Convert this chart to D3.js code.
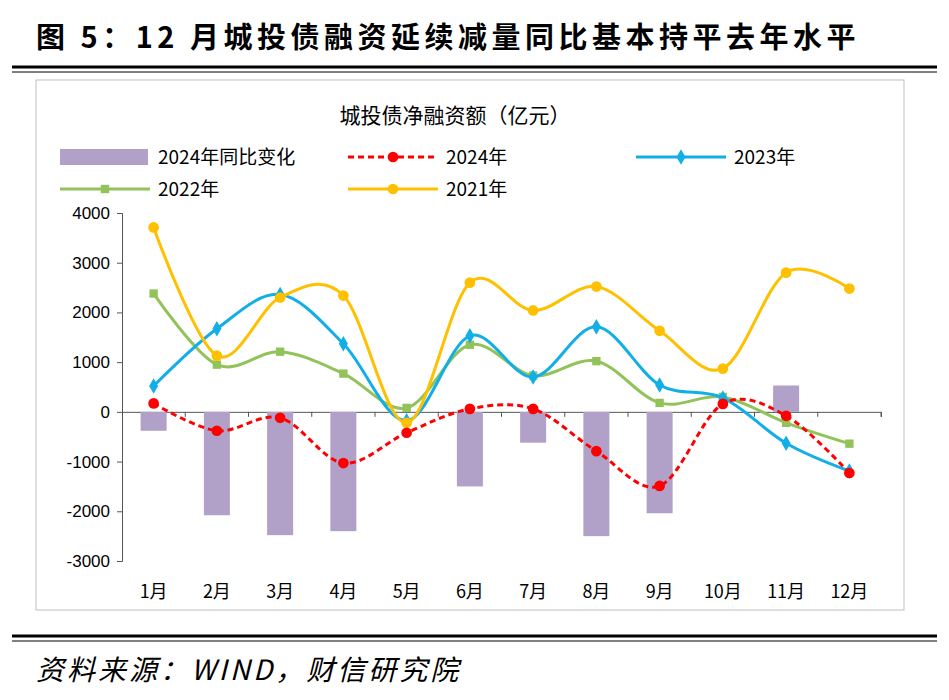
<!DOCTYPE html>
<html><head><meta charset="utf-8">
<script src="https://cdn.jsdelivr.net/npm/d3@7"></script>
<style>body{margin:0;background:#fff}</style>
</head><body><div id="Visualization"></div>
<script>
// Data
const months = ["1月","2月","3月","4月","5月","6月","7月","8月","9月","10月","11月","12月"];
const yoy2024 = [-380,-2080,-2480,-2400,0,-1500,-620,-2500,-2040,0,530,0];
const s2024 = [170,-380,-120,-1030,-420,60,60,-790,-1490,160,-80,-1230];
const s2023 = [520,1670,2360,1370,-180,1530,700,1710,540,280,-630,-1190];
const s2022 = [2380,950,1210,770,80,1350,730,1020,180,300,-220,-640];
const s2021 = [3710,1130,2300,2340,-220,2600,2040,2520,1630,870,2800,2480];
const yTicks = [4000,3000,2000,1000,0,-1000,-2000,-3000];

const width = 949, height = 700;
const margin = {left: 122, right: 881, top: 213, bottom: 561};
const font = "'Noto Sans CJK SC', sans-serif";

const svg = d3.select("#Visualization").append("svg")
  .attr("width", width).attr("height", height);

// Header & footer
svg.append("text").attr("x", 36).attr("y", 48)
  .attr("font-family", font).attr("font-size", 29).attr("font-weight", "bold")
  .attr("letter-spacing", 4.5)
  .text("图 5：12 月城投债融资延续减量同比基本持平去年水平");
svg.append("line").attr("x1", 12).attr("x2", 937).attr("y1", 67).attr("y2", 67).attr("stroke", "#000").attr("stroke-width", 3);
svg.append("line").attr("x1", 12).attr("x2", 937).attr("y1", 72).attr("y2", 72).attr("stroke", "#000").attr("stroke-width", 1);
svg.append("line").attr("x1", 12).attr("x2", 937).attr("y1", 636).attr("y2", 636).attr("stroke", "#000").attr("stroke-width", 3);
svg.append("line").attr("x1", 12).attr("x2", 937).attr("y1", 641).attr("y2", 641).attr("stroke", "#000").attr("stroke-width", 1);
svg.append("text").attr("x", 36).attr("y", 680)
  .attr("font-family", font).attr("font-size", 28).attr("font-style", "italic")
  .attr("letter-spacing", 3)
  .text("资料来源：WIND，财信研究院");

svg.append("rect").attr("x", 36).attr("y", 80).attr("width", 868).attr("height", 530)
  .attr("fill", "none").attr("stroke", "#bfbfbf");
svg.append("text").attr("x", 455).attr("y", 123).attr("text-anchor", "middle")
  .attr("font-family", font).attr("font-size", 21).text("城投债净融资额（亿元）");

// Scales
const x = d3.scaleBand().domain(months).range([margin.left, margin.right]);
const y = d3.scaleLinear().domain([-3000, 4000]).range([margin.bottom, margin.top]);
const cx = d => x(d) + x.bandwidth() / 2;

// Axes
const yAxis = svg.append("g").attr("transform", `translate(${margin.left},0)`)
  .call(d3.axisLeft(y).tickValues(yTicks).tickSize(5).tickFormat(d => String(d)));
yAxis.selectAll("text").attr("font-family", "Arial, 'Liberation Sans'").attr("font-size", 17).attr("fill", "#000").attr("dx", -4);
yAxis.select(".domain").attr("stroke", "#555");
yAxis.selectAll(".tick line").attr("stroke", "#555");

const xAxis = svg.append("g").attr("transform", `translate(0,${y(0)})`)
  .call(d3.axisBottom(x).tickSize(5).tickFormat(""));
xAxis.select(".domain").attr("stroke", "#555");
xAxis.selectAll(".tick line").attr("transform", `translate(${x.bandwidth() / 2},0)`).attr("stroke", "#555");
svg.append("g").selectAll("text").data(months).enter().append("text")
  .attr("x", d => cx(d)).attr("y", 598).attr("text-anchor", "middle")
  .attr("font-family", font).attr("font-size", 18).text(d => d);

// Bars
svg.append("g").selectAll("rect").data(yoy2024).enter().append("rect")
  .attr("x", (d, i) => cx(months[i]) - 13).attr("width", 26)
  .attr("y", d => y(Math.max(0, d))).attr("height", d => Math.abs(y(d) - y(0)))
  .attr("fill", "#b1a0c7");

// Lines
const curve = d3.curveCardinal.tension(0);
const line = d3.line().x((d, i) => cx(months[i])).y(d => y(d)).curve(curve);
const series = [
  {data: s2022, color: "#92c35a", shape: "square", dash: null},
  {data: s2023, color: "#12aee8", shape: "diamond", dash: null},
  {data: s2021, color: "#ffc000", shape: "circle", dash: null},
  {data: s2024, color: "#ff0000", shape: "circle", dash: "6,4"}
];
const sym = {square: d3.symbolSquare, diamond: d3.symbolDiamond, circle: d3.symbolCircle};
const symSize = {square: 70, diamond: 70, circle: 90};
series.forEach(s => {
  svg.append("path").datum(s.data).attr("d", line)
    .attr("fill", "none").attr("stroke", s.color).attr("stroke-width", 3)
    .attr("stroke-dasharray", s.dash);
  svg.append("g").selectAll("path").data(s.data).enter().append("path")
    .attr("transform", (d, i) => `translate(${cx(months[i])},${y(d)})`)
    .attr("d", d3.symbol(sym[s.shape], symSize[s.shape])).attr("fill", s.color);
});

// Legend
const legend = [
  {x: 60, y: 157, label: "2024年同比变化", type: "bar", color: "#b1a0c7"},
  {x: 348, y: 157, label: "2024年", color: "#ff0000", shape: "circle", dash: "6,4"},
  {x: 636, y: 157, label: "2023年", color: "#12aee8", shape: "diamond"},
  {x: 60, y: 189, label: "2022年", color: "#92c35a", shape: "square"},
  {x: 348, y: 189, label: "2021年", color: "#ffc000", shape: "circle"}
];
legend.forEach(l => {
  if (l.type === "bar") {
    svg.append("rect").attr("x", l.x).attr("y", l.y - 8).attr("width", 88).attr("height", 16).attr("fill", l.color);
  } else {
    svg.append("line").attr("x1", l.x).attr("x2", l.x + 90).attr("y1", l.y).attr("y2", l.y)
      .attr("stroke", l.color).attr("stroke-width", 3).attr("stroke-dasharray", l.dash || null);
    svg.append("path").attr("transform", `translate(${l.x + 45},${l.y})`)
      .attr("d", d3.symbol(sym[l.shape], symSize[l.shape])).attr("fill", l.color);
  }
  svg.append("text").attr("x", l.x + 98).attr("y", l.y + 7)
    .attr("font-family", font).attr("font-size", 19).text(l.label);
});
</script></body></html>
